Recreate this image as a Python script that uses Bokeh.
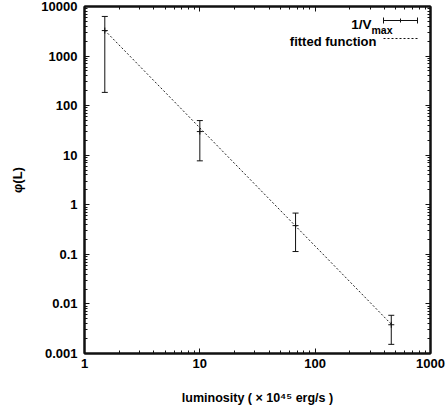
import math
from bokeh.plotting import figure
from bokeh.models import (FixedTicker, CustomJSTickFormatter, LogAxis, Label, Arrow,
                          ColumnDataSource, Whisker, TeeHead)
from bokeh.embed import file_html
from bokeh.resources import INLINE

# ---- data ----
lum = [1.5, 10.0, 67.6, 457.0]
phi = [3270.0, 30.0, 0.38, 0.0038]
phi_hi = [6300.0, 50.0, 0.68, 0.0059]
phi_lo = [185.0, 7.7, 0.114, 0.00153]
fit_x = [1.5, 457.0]
fit_y = [3300.0, 0.0039]
x_major = [1, 10, 100, 1000]
y_major = [0.001, 0.01, 0.1, 1, 10, 100, 1000, 10000]

FONT = "Liberation Sans"
INK = "#111111"

p = figure(width=448, height=417, x_axis_type="log", y_axis_type="log",
           x_range=(1, 1000), y_range=(0.001, 10000),
           output_backend="svg", toolbar_location=None,
           min_border_left=84, min_border_right=18, min_border_top=6, min_border_bottom=64)
p.xgrid.visible = False
p.ygrid.visible = False
p.outline_line_color = INK
p.outline_line_width = 2
p.background_fill_color = "white"
p.border_fill_color = "white"

def minors(majors):
    out = []
    for m in majors[:-1]:
        out += [m * k for k in range(2, 10)]
    return out

xt = FixedTicker(ticks=x_major, minor_ticks=minors(x_major))
yt = FixedTicker(ticks=y_major, minor_ticks=minors(y_major))
fmt = CustomJSTickFormatter(code="return String(tick);")
blank = CustomJSTickFormatter(code="return '';")

def style(ax, ticker, labels=True):
    ax.ticker = ticker
    ax.formatter = fmt if labels else blank
    ax.axis_line_color = INK
    ax.axis_line_width = 2
    ax.major_tick_in = 5
    ax.major_tick_out = 0
    ax.minor_tick_in = 3
    ax.minor_tick_out = 0
    ax.major_tick_line_color = INK
    ax.minor_tick_line_color = INK
    ax.major_label_text_font = FONT
    ax.major_label_text_font_style = "bold"
    ax.major_label_text_color = "black"
    ax.major_label_text_font_size = "13px"
    ax.axis_label_text_font = FONT
    ax.axis_label_text_font_style = "bold"
    ax.axis_label_text_color = "black"
    if not labels:
        ax.major_label_standoff = 0

style(p.xaxis[0], xt)
style(p.yaxis[0], yt)
p.xaxis[0].major_label_standoff = 5
p.yaxis[0].major_label_standoff = 7
p.xaxis[0].axis_label = "luminosity ( × 10⁴⁵ erg/s )"
p.xaxis[0].axis_label_text_font_size = "12.5px"
p.xaxis[0].axis_label_standoff = 20
p.yaxis[0].axis_label = "φ(L)"
p.yaxis[0].axis_label_text_font_size = "13px"
p.yaxis[0].axis_label_standoff = 13

ax_r = LogAxis()
style(ax_r, yt, labels=False)
p.add_layout(ax_r, "right")
ax_t = LogAxis()
style(ax_t, xt, labels=False)
p.add_layout(ax_t, "above")

# ---- fitted function ----
p.line(fit_x, fit_y, line_color="#222222", line_width=1, line_dash="2 2")

# ---- 1/Vmax points with error bars ----
src = ColumnDataSource(dict(x=lum, y=phi, hi=phi_hi, lo=phi_lo))
p.add_layout(Whisker(source=src, base="x", upper="hi", lower="lo", dimension="height",
                     line_color=INK, line_width=1,
                     upper_head=TeeHead(size=6, line_color=INK, line_width=1),
                     lower_head=TeeHead(size=6, line_color=INK, line_width=1)))
p.scatter("x", "y", source=src, marker="cross", size=6, line_color=INK, line_width=1)

# ---- legend drawn in screen units (relative to frame, y up from bottom) ----
FL, FB = 84, 353
def lab(text, cx, cy, size="13px", style="bold", align="left", baseline="alphabetic"):
    p.add_layout(Label(x=cx - FL, y=FB - cy, x_units="screen", y_units="screen", text=text,
                       text_font=FONT, text_font_size=size, text_font_style=style,
                       text_color="black", text_align=align, text_baseline=baseline))

def seg(x0, y0, x1, y1, dash="solid"):
    p.add_layout(Arrow(x_start=x0 - FL, y_start=FB - y0, x_end=x1 - FL, y_end=FB - y1,
                       start_units="screen", end_units="screen", start=None, end=None,
                       line_color=INK, line_width=1, line_dash=dash))

lab("1/V", 371, 24, size="13.5px", align="right")
lab("max", 371, 29, size="10.5px")
seg(383, 20, 417, 20)
seg(383, 17, 383, 23)
seg(417, 17, 417, 23)
seg(400, 18, 400, 22)
lab("fitted function", 376, 41, size="13px", align="right")
seg(383, 38, 417, 38, dash="2 2")

open("out.html", "w").write(file_html(p, INLINE))
